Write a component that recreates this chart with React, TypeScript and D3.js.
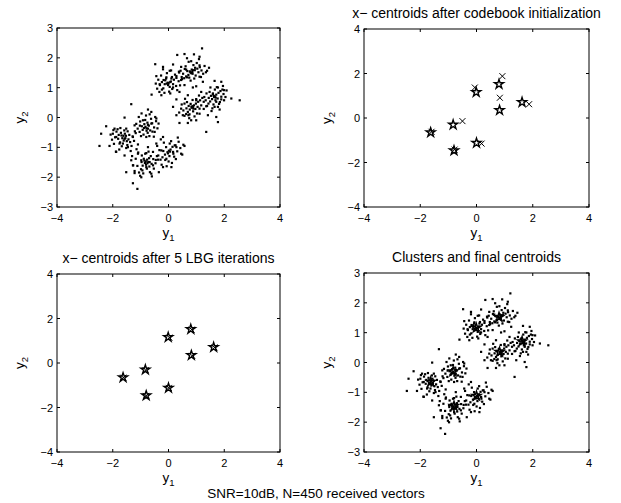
import React from "react";
import * as d3 from "d3";

// received vectors
const pointsRead: [number, number][] = [
  [1.2,2.32],[0.57,2.13],[0.91,2.12],[0.31,2.1],[1.11,2.04],[0.81,1.89],[-0.48,1.79],[0.16,1.78],[-0.2,1.7],[0.45,1.7],[1.45,1.67],[1.11,1.75],[1.38,1.57],[0.04,1.57],[0.37,1.54],[0.63,1.61],[0.87,1.59],[-0.44,1.39],[-0.18,1.26],[-0.08,1.35],[0.1,1.31],[0.28,1.39],[0.45,1.26],[0.66,1.35],[1.11,1.37],[1.23,1.2],[1.65,1.23],[1.89,1.2],[-0.32,1.12],[-0.02,1.09],[0.16,1.01],[0.57,1.09],[0.87,1.01],[0.99,1.05],[1.5,1.01],[1.77,1.01],[1.99,0.92],[-0.24,0.94],[-0.61,0.77],[-0.26,0.75],[0.06,0.81],[0.39,0.86],[0.69,0.75],[1.17,0.86],[1.59,0.78],[1.89,0.7],[2.25,0.64],[2.55,0.58],[0.28,0.61],[0.57,0.47],[0.99,0.58],[1.26,0.53],[1.71,0.53],[1.99,0.58],[0.16,0.36],[0.45,0.3],[0.87,0.38],[1.11,0.3],[1.35,0.38],[1.65,0.36],[1.83,0.27],[0.28,0.08],[0.51,0.08],[0.75,0.11],[1.11,0.13],[1.41,0.08],[1.71,0.02],[0.39,-0.18],[0.69,-0.18],[0.99,-0.09],[1.77,-0.15],[1.35,-0.48],
  [-1.34,0.45],[-0.74,0.27],[-1.58,0.0],[-2.24,-0.29],[-1.94,-0.37],[-2.42,-0.54],[-2.0,-0.54],[-1.52,-0.37],[-1.22,-0.26],[-0.92,-0.09],[-0.62,-0.2],[-0.44,-0.03],[-1.04,-0.48],[-0.74,-0.37],[-0.5,-0.48],[-1.88,-0.65],[-1.58,-0.71],[-1.28,-0.65],[-0.8,-0.65],[-0.2,-0.65],[0.33,-0.67],[-2.48,-0.95],[-2.12,-0.95],[-1.76,-0.87],[-1.46,-0.99],[-1.1,-0.9],[-0.74,-0.99],[-0.44,-0.87],[0.04,-0.87],[0.25,-0.93],[0.57,-0.95],[-1.88,-1.15],[-1.58,-1.27],[-1.1,-1.21],[-0.8,-1.19],[-0.56,-1.15],[-0.26,-1.1],[0.16,-1.15],[0.45,-1.21],[-1.34,-1.43],[-0.98,-1.43],[-0.68,-1.49],[-0.38,-1.41],[-0.08,-1.38],[-1.28,-1.6],[-0.8,-1.66],[-0.56,-1.6],[-0.2,-1.66],[0.1,-1.66],[-1.52,-1.83],[-1.22,-1.86],[-0.94,-1.77],[-0.62,-1.88],[-0.35,-1.83],[-0.98,-2.0],[-1.28,-2.2],[-1.12,-2.39],
];
const groupA: [number, number][] = [[-1.87,-0.47],[-1.79,-0.58],[-1.71,-0.51],[-1.66,-0.69],[-1.53,-0.61],[-1.61,-0.77],[-1.44,-0.73],[-1.74,-0.83],[-1.92,-0.66],[-1.57,-0.54],[-1.38,-0.82],[-1.48,-0.92],[-1.83,-0.39],[-1.68,-0.96],[-1.29,-0.63],[-2.03,-0.74],[-1.96,-0.88],[-1.59,-0.43],[-1.41,-0.58],[-1.77,-1.07],[-1.52,-1.02],[-1.33,-0.95],[-2.08,-0.57],[-1.89,-1.14],[-1.62,-0.61],[-1.69,-0.6],[-1.55,-0.69],[-1.24,-0.78],[-1.47,-0.46],[-1.81,-0.71],[-1.36,-1.12],[-1.98,-0.42],[-1.18,-0.52],[-1.64,-0.87],[-1.73,-0.35],[-1.5,-0.79]];
const groupB: [number, number][] = [[-0.87,-0.22],[-0.79,-0.36],[-0.71,-0.27],[-0.93,-0.41],[-0.66,-0.43],[-0.84,-0.08],[-0.59,-0.19],[-1.02,-0.13],[-0.75,-0.51],[-0.96,-0.29],[-0.63,-0.04],[-1.11,-0.37],[-0.52,-0.33],[-0.81,0.07],[-0.69,-0.62],[-1.07,0.02],[-0.45,-0.12],[-0.9,-0.57],[-0.76,-0.17],[-0.58,-0.47],[-1.16,-0.21],[-0.97,0.14],[-0.68,0.11],[-0.4,-0.36],[-0.83,-0.31],[-0.74,-0.24],[-0.88,-0.35],[-1.21,-0.46],[-0.53,-0.64],[-0.62,0.19],[-0.99,-0.62],[-0.36,-0.2],[-0.79,-0.44],[-1.03,-0.27],[-0.48,0.02]];
const groupC: [number, number][] = [[-0.85,-1.52],[-0.77,-1.41],[-0.93,-1.61],[-0.7,-1.36],[-0.99,-1.73],[-0.64,-1.29],[-1.06,-1.84],[-0.81,-1.58],[-0.73,-1.49],[-0.89,-1.38],[-0.61,-1.55],[-1.12,-1.62],[-0.55,-1.39],[-0.96,-1.27],[-0.78,-1.71],[-1.02,-1.95],[-0.67,-1.83],[-1.18,-1.38],[-0.47,-1.53],[-0.84,-1.21],[-1.27,-1.6],[-0.53,-1.71],[-1.09,-1.17],[-0.42,-1.29],[-0.91,-1.87],[-0.72,-1.14],[-1.31,-1.29],[-0.82,-1.47],[-0.76,-1.53],[-0.87,-1.44],[-0.6,-1.97],[-1.15,-1.06],[-0.97,-1.49],[-0.69,-1.64],[-1.22,-1.79]];
const groupD: [number, number][] = [[-0.04,-1.16],[0.07,-1.07],[-0.13,-1.24],[0.14,-0.98],[-0.22,-1.33],[0.22,-0.93],[-0.29,-1.41],[0.03,-1.29],[-0.09,-0.99],[0.17,-1.21],[-0.33,-1.09],[0.31,-1.13],[-0.17,-0.84],[0.09,-0.79],[-0.25,-1.58],[0.26,-1.39],[-0.41,-0.95],[0.42,-1.02],[0.0,-1.47],[-0.37,-1.27],[0.36,-0.81],[-0.07,-1.63],[0.49,-1.24],[-0.46,-1.42],[0.12,-1.52],[-0.28,-0.73],[0.53,-0.91],[0.01,-1.11],[-0.02,-1.2],[0.05,-1.14],[-0.19,-1.12],[0.2,-1.31],[-0.12,-1.42],[0.28,-0.99]];
const groupE: [number, number][] = [[-0.03,1.17],[0.08,1.21],[-0.14,1.12],[0.19,1.27],[-0.24,1.19],[0.28,1.33],[-0.31,1.09],[0.36,1.22],[0.04,1.03],[-0.09,1.31],[0.13,0.96],[-0.19,0.98],[0.23,1.44],[-0.37,1.27],[0.41,1.08],[-0.06,1.49],[0.16,1.12],[-0.27,1.41],[0.31,0.92],[-0.46,1.14],[0.09,1.58],[-0.15,0.83],[0.47,1.36],[-0.41,0.97],[0.02,0.87],[-0.2,1.62],[0.27,1.06],[0.0,1.15],[0.06,1.19],[-0.07,1.14],[0.12,1.36],[-0.33,0.86],[0.38,1.51],[-0.12,1.25]];
const groupF: [number, number][] = [[0.78,1.52],[0.86,1.47],[0.71,1.43],[0.94,1.59],[0.63,1.38],[1.03,1.64],[0.56,1.32],[1.12,1.69],[0.83,1.61],[0.74,1.34],[0.97,1.41],[0.67,1.56],[1.07,1.52],[0.52,1.47],[0.89,1.76],[0.79,1.24],[1.18,1.58],[0.61,1.72],[1.01,1.83],[0.48,1.29],[1.24,1.47],[0.72,1.87],[0.92,1.31],[1.29,1.73],[0.58,1.63],[1.09,1.96],[0.81,1.49],[0.76,1.55],[0.85,1.53],[0.66,1.99],[1.34,1.52],[0.95,1.67],[0.43,1.57],[1.16,1.36]];
const groupG: [number, number][] = [[0.83,0.33],[0.91,0.41],[0.76,0.27],[0.98,0.47],[0.69,0.19],[1.06,0.53],[0.63,0.12],[1.13,0.58],[0.88,0.21],[0.79,0.46],[0.96,0.29],[0.72,0.39],[1.02,0.14],[0.64,0.31],[1.17,0.41],[0.57,0.06],[0.86,0.59],[0.74,-0.02],[1.21,0.66],[0.53,0.24],[0.93,0.04],[0.66,0.52],[1.09,0.74],[0.47,0.44],[0.81,-0.09],[1.26,0.29],[0.87,0.36],[0.82,0.37],[0.89,0.3],[0.59,0.63],[1.04,0.36],[0.38,0.17],[0.71,0.08],[0.99,0.62]];
const groupH: [number, number][] = [[1.63,0.69],[1.71,0.77],[1.56,0.62],[1.79,0.83],[1.49,0.54],[1.86,0.89],[1.43,0.47],[1.93,0.94],[1.68,0.58],[1.59,0.81],[1.76,0.64],[1.52,0.73],[1.84,0.52],[1.44,0.66],[1.97,0.79],[1.38,0.39],[1.66,0.94],[1.57,0.31],[2.04,0.69],[1.33,0.58],[1.73,1.02],[1.61,0.44],[1.89,0.61],[1.47,0.86],[2.08,0.91],[1.77,0.36],[1.66,0.71],[1.62,0.73],[1.69,0.67],[1.36,0.81],[1.95,1.06],[1.54,0.22],[1.81,0.46],[1.28,0.69]];

const receivedVectors: [number, number][] = [
  ...pointsRead, ...groupA, ...groupB, ...groupC, ...groupD, ...groupE, ...groupF, ...groupG, ...groupH,
];

// true centroids (stars)
const trueCentroids: [number, number][] = [
  [-1.63,-0.65],[-0.83,-0.3],[-0.8,-1.46],[-0.01,1.16],[0.0,-1.12],[0.8,1.52],[0.82,0.35],[1.62,0.71],
];
// initial codebook (x)
const initCentroids: [number, number][] = [
  [-1.6,-0.62],[-0.5,-0.14],[-0.78,-1.42],[-0.06,1.37],[0.18,-1.15],[0.92,1.88],[0.83,0.91],[1.87,0.62],
];
// after 5 LBG iterations (x)
const lbgCentroids: [number, number][] = [
  [-1.62,-0.66],[-0.82,-0.32],[-0.8,-1.48],[0.03,1.14],[0.01,-1.12],[0.83,1.5],[0.85,0.32],[1.65,0.7],
];

const xTicks = [-4, -2, 0, 2, 4];
const yTicks3 = [-3, -2, -1, 0, 1, 2, 3];
const yTicks4 = [-4, -2, 0, 2, 4];

const FONT = "'Liberation Sans', Arial, Helvetica, sans-serif";
const fmt = (v: number) => (v < 0 ? "\u2212" + Math.abs(v) : String(v));

type PanelProps = {
  x0: number; x1: number; y0: number; y1: number;
  yDomain: [number, number]; yTicks: number[];
  title?: string;
  dots?: [number, number][];
  stars?: [number, number][];
  crosses?: [number, number][];
};

function Panel({ x0, x1, y0, y1, yDomain, yTicks, title, dots, stars, crosses }: PanelProps) {
  const xs = d3.scaleLinear().domain([-4, 4]).range([x0, x1]);
  const ys = d3.scaleLinear().domain(yDomain).range([y1, y0]);
  const star = d3.symbol().type(d3.symbolStar).size(26)() as string;
  const tl = 3;
  const cx = (x0 + x1) / 2;
  const cy = (y0 + y1) / 2;
  return (
    <g>
      <rect x={x0} y={y0} width={x1 - x0} height={y1 - y0} fill="none" stroke="#000" strokeWidth={1} />
      {xTicks.map((t) => (
        <g key={"x" + t}>
          <line x1={xs(t)} x2={xs(t)} y1={y1} y2={y1 - tl} stroke="#000" />
          <line x1={xs(t)} x2={xs(t)} y1={y0} y2={y0 + tl} stroke="#000" />
          <text x={xs(t)} y={y1 + 15} textAnchor="middle" fontSize={11} fontFamily={FONT}>{fmt(t)}</text>
        </g>
      ))}
      {yTicks.map((t) => (
        <g key={"y" + t}>
          <line x1={x0} x2={x0 + tl} y1={ys(t)} y2={ys(t)} stroke="#000" />
          <line x1={x1} x2={x1 - tl} y1={ys(t)} y2={ys(t)} stroke="#000" />
          <text x={x0 - 4} y={ys(t) + 4} textAnchor="end" fontSize={11} fontFamily={FONT}>{fmt(t)}</text>
        </g>
      ))}
      <text x={cx} y={y1 + 30} textAnchor="middle" fontSize={13.5} fontFamily={FONT}>
        y<tspan fontSize={9.5} dy={4}>1</tspan>
      </text>
      <text transform={`translate(${x0 - 33},${cy}) rotate(-90)`} textAnchor="middle" fontSize={13.5} fontFamily={FONT}>
        y<tspan fontSize={9.5} dy={4}>2</tspan>
      </text>
      {title && (
        <text x={cx} y={y0 - 11} textAnchor="middle" fontSize={14} fontFamily={FONT}>{title}</text>
      )}
      {dots && dots.map((p, i) => (
        <rect key={"d" + i} x={xs(p[0]) - 1} y={ys(p[1]) - 1} width={2.2} height={2.2} fill="#000" />
      ))}
      {stars && stars.map((p, i) => (
        <path key={"s" + i} d={star} transform={`translate(${xs(p[0])},${ys(p[1])})`} fill="none" stroke="#000" strokeWidth={1.4} />
      ))}
      {crosses && crosses.map((p, i) => (
        <g key={"c" + i} transform={`translate(${xs(p[0])},${ys(p[1])})`} stroke="#000" strokeWidth={1}>
          <line x1={-3} y1={-3} x2={3} y2={3} />
          <line x1={-3} y1={3} x2={3} y2={-3} />
        </g>
      ))}
    </g>
  );
}

export default function App() {
  return (
    <svg width={621} height={503} style={{ position: "absolute", left: 0, top: 0, background: "#fff" }}>
      <rect width={621} height={503} fill="#fff" />
      <Panel x0={57} x1={280} y0={28} y1={207} yDomain={[-3, 3]} yTicks={yTicks3} dots={receivedVectors} />
      <Panel x0={364} x1={589} y0={29} y1={207} yDomain={[-4, 4]} yTicks={yTicks4}
        title={"x\u2212 centroids after codebook initialization"} stars={trueCentroids} crosses={initCentroids} />
      <Panel x0={57} x1={280} y0={274} y1={452} yDomain={[-4, 4]} yTicks={yTicks4}
        title={"x\u2212 centroids after 5 LBG iterations"} stars={trueCentroids} crosses={lbgCentroids} />
      <Panel x0={364} x1={589} y0={273} y1={452} yDomain={[-3, 3]} yTicks={yTicks3}
        title="Clusters and final centroids" dots={receivedVectors} stars={trueCentroids} crosses={lbgCentroids} />
      <text x={316} y={498} textAnchor="middle" fontSize={13.5} fontFamily={FONT}>SNR=10dB, N=450 received vectors</text>
    </svg>
  );
}
